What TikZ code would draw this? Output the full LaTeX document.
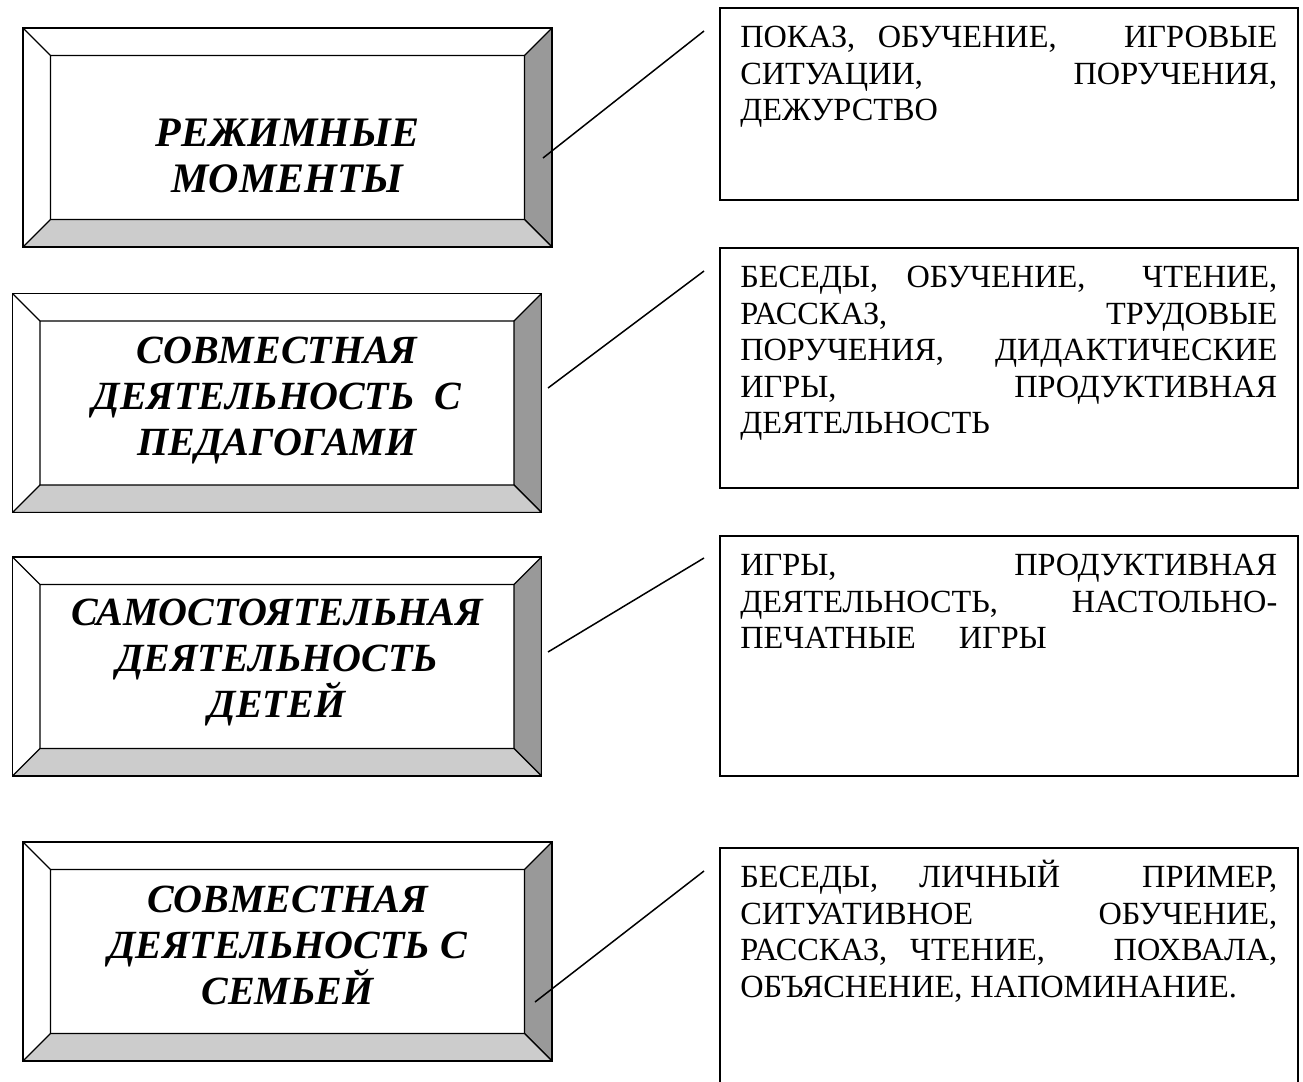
\documentclass[tikz,border=0pt]{standalone}
\usepackage{fontspec}
\setmainfont{Liberation Serif}
\usetikzlibrary{calc,positioning}

\definecolor{bevdark}{gray}{0.6}
\definecolor{bevlight}{gray}{0.8}
% one justified line of a note
\newcommand{\jl}[1]{\makebox[\linewidth][s]{#1}\\}

\tikzset{
    bevelbox/.style={draw, line width=1.6pt, inner sep=0pt,
        minimum width=529pt, minimum height=219pt,
        path picture={
            \path (path picture bounding box.north west) coordinate (pnw)
                  (path picture bounding box.north east) coordinate (pne)
                  (path picture bounding box.south east) coordinate (pse)
                  (path picture bounding box.south west) coordinate (psw);
            \path ([shift={(27.5pt,-27.5pt)}]pnw) coordinate (qnw)
                  ([shift={(-27.5pt,-27.5pt)}]pne) coordinate (qne)
                  ([shift={(-27.5pt,27.5pt)}]pse) coordinate (qse)
                  ([shift={(27.5pt,27.5pt)}]psw) coordinate (qsw);
            \filldraw[fill=bevdark, line width=1.3pt] (pne) -- (pse) -- (qse) -- (qne) -- cycle;
            \filldraw[fill=bevlight, line width=1.3pt] (psw) -- (pse) -- (qse) -- (qsw) -- cycle;
            \draw[line width=1.3pt] (pnw) -- (qnw) -- (qne) (qnw) -- (qsw);
        }},
    heading/.style={font=\fontsize{40}{46}\selectfont\bfseries\itshape,
        align=center, anchor=north, inner sep=0pt},
    notebox/.style={draw, line width=1.6pt, anchor=north west,
        inner xsep=20.5pt, inner ysep=0pt, font=\fontsize{32.3}{36.5}\selectfont},
    link/.style={line width=1.5pt}
}

\begin{document}
\begin{tikzpicture}[x=1pt, y=-1pt]
    \useasboundingbox (0,0) rectangle (1303,1081);

    % forms of work
    \node[bevelbox] (rezhim) at (287.5, 137.5) {};
    \node[bevelbox] (pedag) at (277, 403) {};
    \node[bevelbox] (samost) at (277, 666.5) {};
    \node[bevelbox] (semya) at (287.5, 951.5) {};

    \node[heading, font=\fontsize{42}{46}\selectfont\bfseries\itshape] (rezhimT) at (287.5, 116) {\rule{0pt}{30pt}РЕЖИМНЫЕ\\МОМЕНТЫ};
    \node[heading] (pedagT) at (277, 333) {\rule{0pt}{30pt}СОВМЕСТНАЯ\\ДЕЯТЕЛЬНОСТЬ\ \ С\\ПЕДАГОГАМИ};
    \node[heading] (samostT) at (277, 595) {\rule{0pt}{30pt}САМОСТОЯТЕЛЬНАЯ\\ДЕЯТЕЛЬНОСТЬ\\ДЕТЕЙ};
    \node[heading] (semyaT) at (287.5, 882) {\rule{0pt}{30pt}СОВМЕСТНАЯ\\ДЕЯТЕЛЬНОСТЬ С\\СЕМЬЕЙ};

    % methods
    \node[notebox] (rezhimN) at (719, 7) {\parbox[c][192pt][t]{537pt}{\rule{0pt}{40pt}%
        \jl{ПОКАЗ,\hfill ОБУЧЕНИЕ,\hfill\hfill\hfill ИГРОВЫЕ}%
        \jl{СИТУАЦИИ, ПОРУЧЕНИЯ,}%
        ДЕЖУРСТВО}};
    \node[notebox] (pedagN) at (719, 247) {\parbox[c][240pt][t]{537pt}{\rule{0pt}{40pt}%
        \jl{БЕСЕДЫ,\hfill ОБУЧЕНИЕ,\hfill\hfill ЧТЕНИЕ,}%
        \jl{РАССКАЗ, ТРУДОВЫЕ}%
        \jl{ПОРУЧЕНИЯ, ДИДАКТИЧЕСКИЕ}%
        \jl{ИГРЫ, ПРОДУКТИВНАЯ}%
        ДЕЯТЕЛЬНОСТЬ}};
    \node[notebox] (samostN) at (719, 535) {\parbox[c][240pt][t]{537pt}{\rule{0pt}{40pt}%
        \jl{ИГРЫ, ПРОДУКТИВНАЯ}%
        \jl{ДЕЯТЕЛЬНОСТЬ, НАСТОЛЬНО-}%
        ПЕЧАТНЫЕ\hspace{43pt}ИГРЫ}};
    \node[notebox] (semyaN) at (719, 847) {\parbox[c][260pt][t]{537pt}{\rule{0pt}{40pt}%
        \jl{БЕСЕДЫ,\hfill ЛИЧНЫЙ\hfill\hfill ПРИМЕР,}%
        \jl{СИТУАТИВНОЕ ОБУЧЕНИЕ,}%
        \jl{РАССКАЗ,\hfill ЧТЕНИЕ,\hfill\hfill\hfill ПОХВАЛА,}%
        ОБЪЯСНЕНИЕ, НАПОМИНАНИЕ.}};

    \coordinate (rezhimL) at (543, 158);
    \coordinate (rezhimR) at (704, 31);
    \coordinate (pedagL) at (548, 388);
    \coordinate (pedagR) at (704, 271);
    \coordinate (samostL) at (548, 652);
    \coordinate (samostR) at (704, 558);
    \coordinate (semyaL) at (535, 1002);
    \coordinate (semyaR) at (704, 871);

    \draw[link]
    (rezhimL) edge (rezhimR)
    (pedagL) edge (pedagR)
    (samostL) edge (samostR)
    (semyaL) edge (semyaR);
\end{tikzpicture}
\end{document}
